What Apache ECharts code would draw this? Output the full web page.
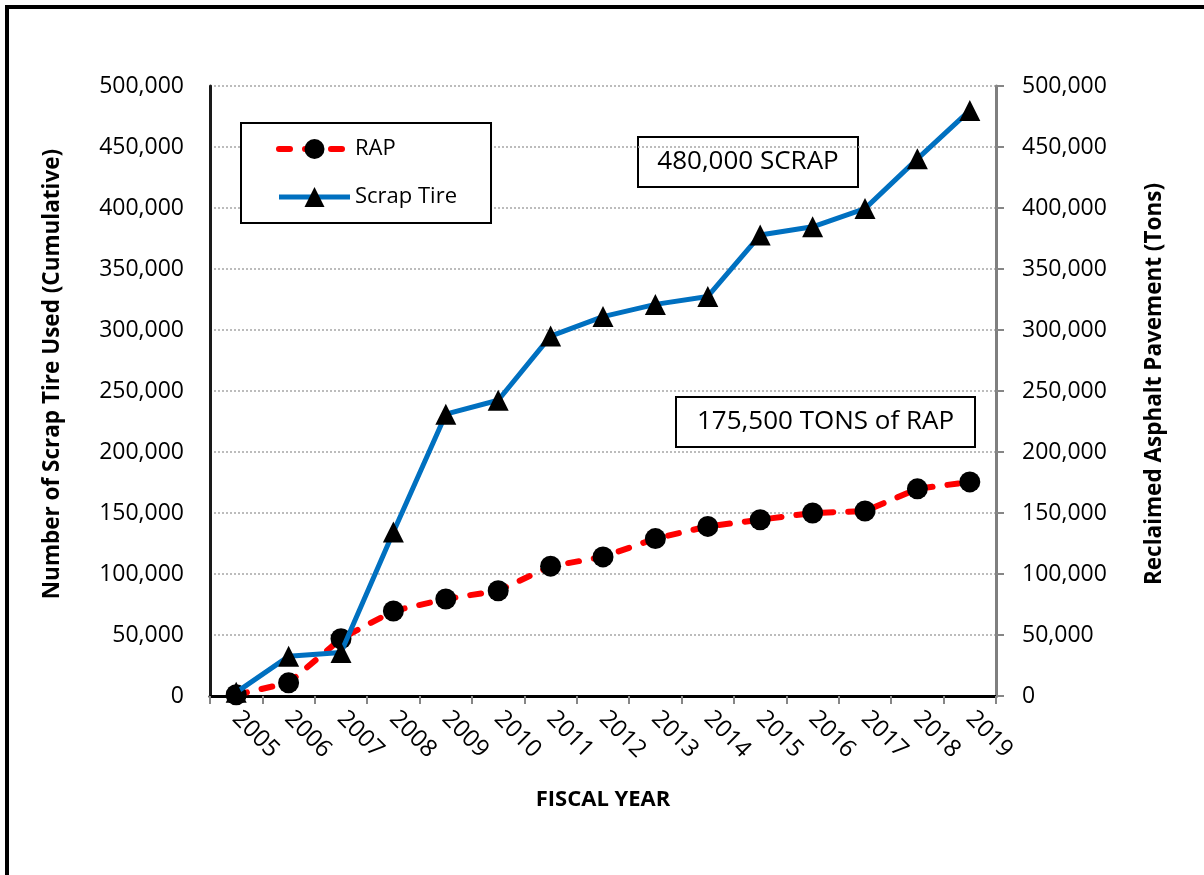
<!DOCTYPE html>
<html>
<head>
<meta charset="utf-8">
<title>Scrap Tire and RAP Usage by Fiscal Year</title>
<script src="https://cdn.jsdelivr.net/npm/echarts@6/dist/echarts.min.js"></script>
<style>
  html, body { margin: 0; padding: 0; background: #fff; }
  #chart { width: 1204px; height: 875px; }
</style>
</head>
<body>
<div id="chart"></div>
<script>
// Fiscal years on the category axis
const years = ['2005', '2006', '2007', '2008', '2009', '2010', '2011', '2012',
               '2013', '2014', '2015', '2016', '2017', '2018', '2019'];

// Reclaimed asphalt pavement used, cumulative tons
const rapTons = [1000, 10800, 46900, 69700, 79500, 86300, 106400, 114000,
                 129000, 139000, 144500, 150000, 151600, 169800, 175500];

// Scrap tires used, cumulative count
const scrapTires = [3000, 32500, 35700, 134400, 231000, 242400, 295000, 311000,
                    321000, 327500, 377800, 384600, 399500, 440300, 480000];

// Shared value-axis range
const axisMin = 0;
const axisMax = 500000;
const axisStep = 50000;

const FONT = '"Open Sans", "Noto Sans", sans-serif';
const fmt = v => Number(v).toLocaleString('en-US');
const last = arr => arr[arr.length - 1];

const RAP_LINE = { color: '#ff0000', width: 6, type: [11, 15], cap: 'round' };
const TIRE_LINE = { color: '#0070c0', width: 5 };

const chart = echarts.init(document.getElementById('chart'), null, { renderer: 'canvas' });

const valueAxisBase = {
  type: 'value',
  min: axisMin,
  max: axisMax,
  interval: axisStep,
  axisLabel: {
    formatter: fmt,
    fontFamily: FONT,
    fontSize: 23,
    color: '#000',
    margin: 26
  }
};

// Annotation callout: white box with a thin black frame and centred text
function callout(x, y, w, h, text) {
  return {
    type: 'group',
    x: x, y: y,
    z: 100,
    children: [
      { type: 'rect', shape: { x: 0, y: 0, width: w, height: h },
        style: { fill: '#fff', stroke: '#000', lineWidth: 2 } },
      { type: 'text', x: w / 2, y: h / 2,
        style: { text: text, fontFamily: FONT, fontSize: 26, fill: '#000',
                 align: 'center', verticalAlign: 'middle',
                 textAlign: 'center', textVerticalAlign: 'middle' } }
    ]
  };
}

function axisTitle(x, y, text) {
  return {
    type: 'text', x: x, y: y, rotation: Math.PI / 2,
    style: { text: text, fontFamily: FONT, fontSize: 22.5, fontWeight: 'bold', fill: '#000',
             align: 'center', verticalAlign: 'middle',
             textAlign: 'center', textVerticalAlign: 'middle' }
  };
}

const option = {
  backgroundColor: '#fff',
  animation: false,
  grid: { left: 210, right: 208, top: 86, bottom: 179, containLabel: false },
  legend: {
    left: 241,
    top: 123,
    orient: 'vertical',
    data: [
      { name: 'RAP', lineStyle: RAP_LINE },
      { name: 'Scrap Tire', lineStyle: TIRE_LINE }
    ],
    backgroundColor: '#fff',
    borderColor: '#000',
    borderWidth: 2,
    padding: [15, 34, 15, 35],
    itemWidth: 71,
    itemHeight: 25,
    itemGap: 26,
    textStyle: { fontFamily: FONT, fontSize: 22, color: '#000' },
    z: 50
  },
  xAxis: [
    {
      type: 'category',
      data: years,
      boundaryGap: true,
      axisLine: { show: true, lineStyle: { color: '#868686', width: 3 } },
      axisTick: { show: true, interval: 0, length: 8, lineStyle: { color: '#868686', width: 2 } },
      axisLabel: { interval: 0, rotate: -45, margin: 19, fontFamily: FONT, fontSize: 24, color: '#000' },
      splitLine: { show: false }
    },
    {
      // closes the top of the plot frame
      type: 'category',
      data: years,
      position: 'top',
      axisLine: { show: true, lineStyle: { color: '#000', width: 3 } },
      axisTick: { show: false },
      axisLabel: { show: false },
      splitLine: { show: false }
    }
  ],
  yAxis: [
    Object.assign({}, valueAxisBase, {
      position: 'left',
      axisLine: { show: true, lineStyle: { color: '#1a1a1a', width: 3 } },
      axisTick: { show: false },
      splitLine: { show: true, lineStyle: { color: '#a6a6a6', width: 1.5, type: [2, 2] } }
    }),
    Object.assign({}, valueAxisBase, {
      position: 'right',
      axisLine: { show: true, lineStyle: { color: '#7f7f7f', width: 3 } },
      axisTick: { show: true, length: 8, lineStyle: { color: '#868686', width: 2 } },
      splitLine: { show: false }
    })
  ],
  series: [
    {
      name: 'RAP',
      type: 'line',
      yAxisIndex: 1,
      data: rapTons,
      symbol: 'circle',
      symbolSize: 21,
      itemStyle: { color: '#000' },
      lineStyle: RAP_LINE,
      z: 3
    },
    {
      name: 'Scrap Tire',
      type: 'line',
      yAxisIndex: 0,
      data: scrapTires,
      symbol: 'triangle',
      symbolSize: 21,
      itemStyle: { color: '#000' },
      lineStyle: TIRE_LINE,
      z: 4
    }
  ],
  graphic: [
    // outer chart frame (runs off the bottom and right edges)
    { type: 'rect', shape: { x: 7, y: 7, width: 1400, height: 1100 },
      style: { fill: 'none', stroke: '#000', lineWidth: 4 }, silent: true },
    callout(638, 137, 220, 50, fmt(last(scrapTires)) + ' SCRAP'),
    callout(676, 397, 299, 50, fmt(last(rapTons)) + ' TONS of RAP'),
    axisTitle(53, 374, 'Number of Scrap Tire Used (Cumulative)'),
    axisTitle(1155, 384, 'Reclaimed Asphalt Pavement (Tons)'),
    { type: 'text', x: 603, y: 800,
      style: { text: 'FISCAL YEAR', fontFamily: FONT, fontSize: 22, fontWeight: 'bold', fill: '#000',
               align: 'center', verticalAlign: 'middle',
               textAlign: 'center', textVerticalAlign: 'middle' } }
  ]
};

chart.setOption(option);
</script>
</body>
</html>
